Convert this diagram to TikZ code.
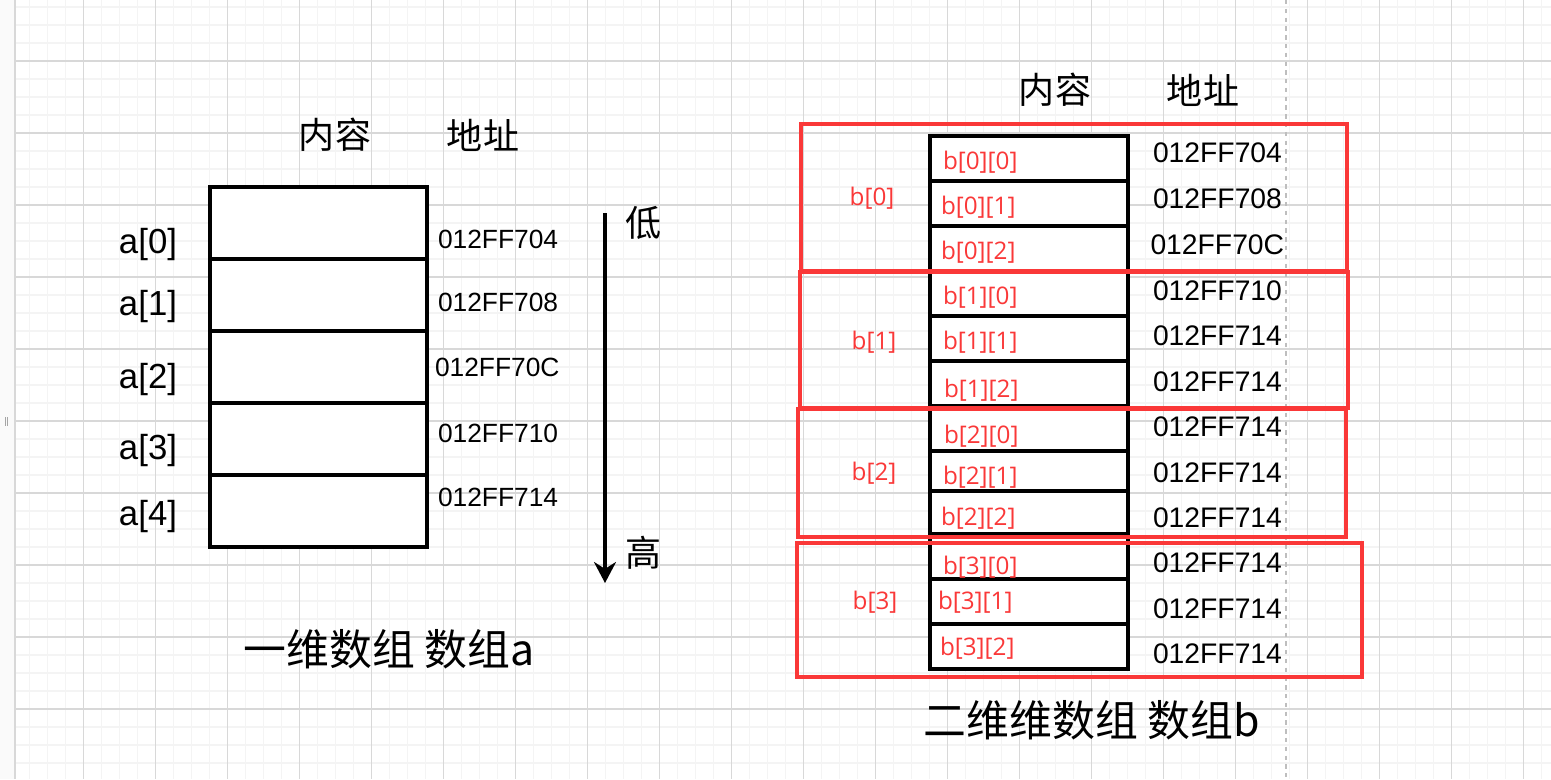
\documentclass[tikz,border=0pt]{standalone}
\usepackage{fontspec}
\setmainfont{Liberation Sans}
\newfontfamily\cjkfont{Noto Sans CJK SC}
\newfontfamily\lblfont{Open Sans}
\usetikzlibrary{arrows.meta, fit}

\definecolor{gridmajor}{RGB}{216,216,216}
\definecolor{gridminor}{RGB}{244,244,244}
\definecolor{stripgrey}{RGB}{250,250,250}
\definecolor{pagebreak}{RGB}{190,190,190}
\definecolor{memred}{RGB}{250,56,56}

\begin{document}
\begin{tikzpicture}[
    x=0.02cm, y=-0.02cm,
    every node/.style={inner sep=0pt, outer sep=0pt},
    cellbox/.style={draw, line width=2pt, fill=white},
    groupbox/.style={draw=memred, line width=1.9pt},
    idxlbl/.style={font=\fontsize{19.8}{22}\selectfont},
    addrA/.style={anchor=west, font=\fontsize{15}{18}\selectfont},
    addrB/.style={anchor=west, font=\fontsize{16.1}{19}\selectfont},
    redlbl/.style={text=memred, font=\lblfont\fontsize{13.8}{16}\selectfont},
    cjktext/.style={font=\cjkfont\fontsize{20.5}{24}\selectfont},
    caption/.style={font=\cjkfont\fontsize{24.4}{28}\selectfont},
    dirarrow/.style={-{Stealth[length=0.42cm, width=0.44cm]}, line width=1.9pt}
]
    \useasboundingbox (0,0) rectangle (1551,779);

    % ---- canvas grid ----
    \fill[white] (0,0) rectangle (1551,779);
    \foreach \k in {1,...,85}
        \draw[gridminor, line width=0.9pt] ({11.4+18*\k},0) -- ++(0,779);
    \foreach \k in {0,...,43}
        \draw[gridminor, line width=0.9pt] (15,{7+18*\k}) -- (1551,{7+18*\k});
    \foreach \k in {0,...,20}
        \draw[gridmajor, line width=0.6pt] ({83.4+72*\k},0) -- ++(0,779);
    \foreach \k in {0,...,9}
        \draw[gridmajor, line width=0.6pt] (15,{61+72*\k}) -- (1551,{61+72*\k});
    \fill[stripgrey] (0,0) rectangle (15,779);
    \draw[gridmajor, line width=0.6pt] (15,0) -- (15,779);
    \draw[gray!70, line width=0.5pt] (5,417) -- (5,426) (7.5,417) -- (7.5,426);
    \draw[pagebreak, line width=0.8pt, dash pattern=on 2.5pt off 2.5pt] (1286,0) -- (1286,779);

    % ---- array a ----
    \node[cjktext] (headcA) at (335,135) {内容};
    \node[cjktext] (headaA) at (483,135) {地址};

    \node[cellbox, minimum width=4.34cm, minimum height=1.44cm] (cellA0) at (318.5,223) {};
    \node[cellbox, minimum width=4.34cm, minimum height=1.44cm] (cellA1) at (318.5,295) {};
    \node[cellbox, minimum width=4.34cm, minimum height=1.44cm] (cellA2) at (318.5,367) {};
    \node[cellbox, minimum width=4.34cm, minimum height=1.44cm] (cellA3) at (318.5,439) {};
    \node[cellbox, minimum width=4.34cm, minimum height=1.44cm] (cellA4) at (318.5,511) {};

    \node[idxlbl] (idxA0) at (148,244) {a[0]};
    \node[idxlbl] (idxA1) at (148,306) {a[1]};
    \node[idxlbl] (idxA2) at (148,379) {a[2]};
    \node[idxlbl] (idxA3) at (148,450) {a[3]};
    \node[idxlbl] (idxA4) at (148,516) {a[4]};

    \node[addrA] (adrA0) at (438,239) {012FF704};
    \node[addrA] (adrA1) at (438,302) {012FF708};
    \node[addrA] (adrA2) at (435,367) {012FF70C};
    \node[addrA] (adrA3) at (438,433) {012FF710};
    \node[addrA] (adrA4) at (438,497) {012FF714};

    % ---- low -> high ----
    \coordinate (lowend) at (605,213);
    \coordinate (highend) at (605,583);
    \draw[dirarrow] (lowend) -- (highend);
    \node[cjktext] (low) at (643,223) {低};
    \node[cjktext] (high) at (643,553) {高};

    \node[caption] (capA) at (389,649) {一维数组 数组a};

    % ---- array b ----
    \node[cjktext] (headcB) at (1055,90) {内容};
    \node[cjktext] (headaB) at (1203,90) {地址};

    \foreach \ytop/\ybot/\nm in {136/181/B00, 181/226/B01, 226/271/B02,
                                 271/316/B10, 316/361/B11, 361/406/B12,
                                 406/451/B20, 451/491/B21, 491/534/B22,
                                 534/579/B30, 579/624/B31, 624/669/B32}{
        \pgfmathsetmacro\hgt{(\ybot-\ytop)*0.02}
        \node[cellbox, minimum width=3.96cm, minimum height=\hgt cm]
            (cell\nm) at (1029,{(\ytop+\ybot)/2}) {};
    }

    \foreach \i/\j/\lx/\ly in {0/0/943/162, 0/1/941/207, 0/2/941/252,
                               1/0/943/297, 1/1/943/342, 1/2/944/390,
                               2/0/944/436, 2/1/943/477, 2/2/941/518,
                               3/0/943/567, 3/1/938/602, 3/2/940/648}
        \node[redlbl, anchor=west] (elem\i\j) at (\lx,\ly) {b[\i][\j]};

    \foreach \ya/\val in {153/704, 199/708, 291/710, 336/714, 382/714,
                          427/714, 473/714, 518/714, 563/714, 609/714, 654/714}
        \node[addrB] at (1153,\ya) {012FF\val};
    \node[addrB] (adrB02) at (1150.5,245) {012FF70C};

    % ---- rows of b ----
    \node[groupbox, fit={(801,124) (1347,271)}] (grp0) {};
    \node[groupbox, fit={(800,272) (1348,408)}] (grp1) {};
    \node[groupbox, fit={(798,409) (1346,537)}] (grp2) {};
    \node[groupbox, fit={(797,543) (1362,677)}] (grp3) {};

    \node[redlbl] (row0) at (872,198) {b[0]};
    \node[redlbl] (row1) at (874,342) {b[1]};
    \node[redlbl] (row2) at (874,473) {b[2]};
    \node[redlbl] (row3) at (875,602) {b[3]};

    \node[caption] (capB) at (1092,720) {二维维数组 数组b};

\end{tikzpicture}
\end{document}
